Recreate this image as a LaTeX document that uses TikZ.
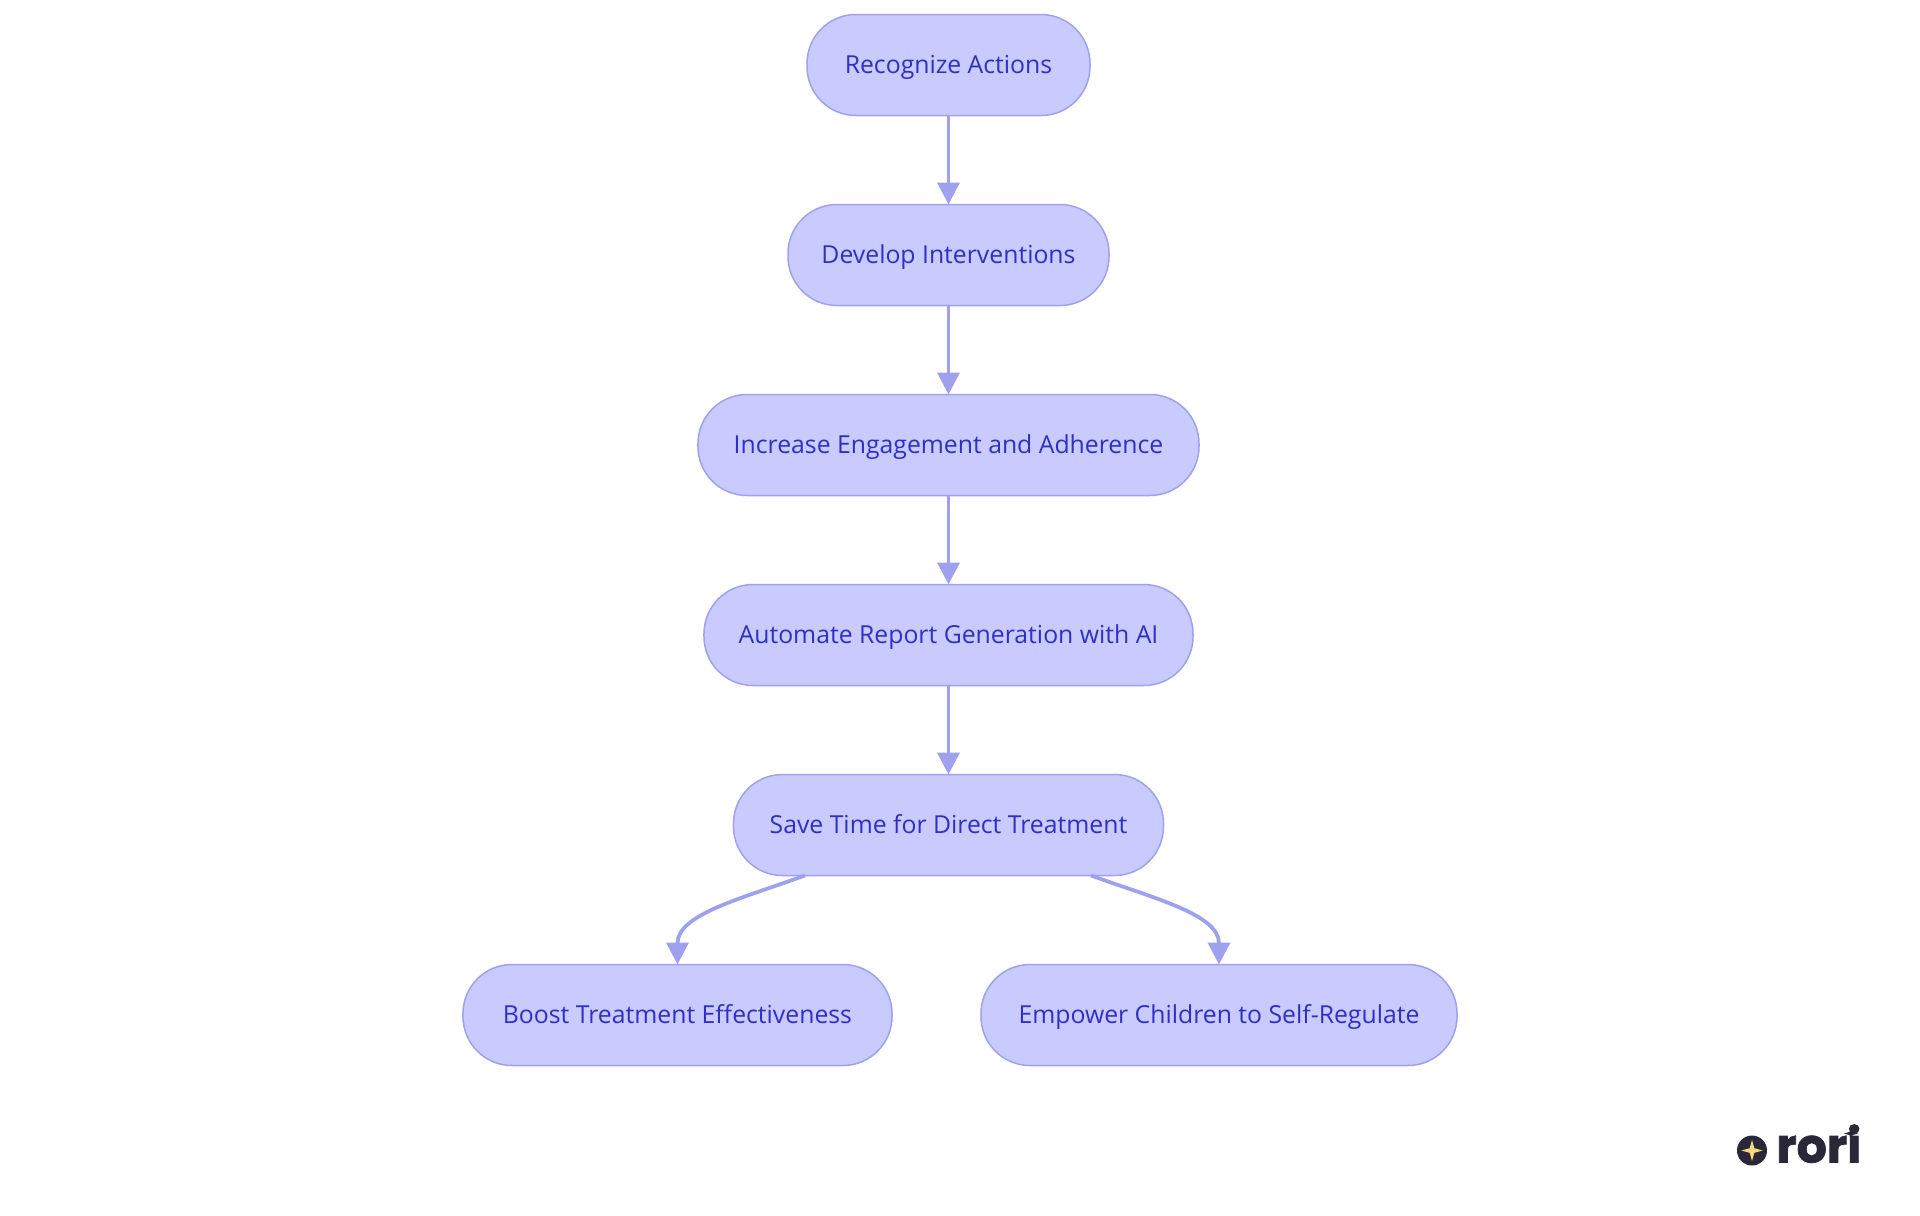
\documentclass[tikz,border=0pt]{standalone}
\usepackage{fontspec}
\setmainfont{Open Sans}
\newfontfamily\logofont{Poppins}[BoldFeatures={FakeBold=1.6}]
\usetikzlibrary{arrows.meta,chains,positioning,shapes.geometric}

\definecolor{boxfill}{HTML}{C9CAFE}
\definecolor{boxline}{HTML}{9FA1EE}
\definecolor{boxtext}{HTML}{2F2FC8}
\definecolor{logodark}{HTML}{2A2838}
\definecolor{logostar}{HTML}{F8D77E}

\begin{document}
\begin{tikzpicture}
    \edef\sizebox{2.02cm}
    \tikzstyle{flowbox}=[draw=boxline, fill=boxfill, text=boxtext, line width=.03cm,
                         rounded corners=.98cm, minimum height=\sizebox, inner sep=0,
                         outer sep=0, text height=.44cm, text depth=.12cm,
                         font=\fontsize{14.1}{17}\selectfont]
    \tikzstyle{flowline}=[draw=boxline, line width=.075cm,
                          -{Triangle[width=.44cm,length=.44cm]}]
    \tikzstyle{spark}=[star, star points=4, star point ratio=3.2, inner sep=0, outer sep=0]

    \useasboundingbox (-18.97,1.30) rectangle (19.43,-23.0);

    % Draw main column of boxes
    \begin{scope}[start chain=1 going below,node distance=1.78cm]
        \node [on chain=1,flowbox,minimum width=5.66cm] (recognize) {Recognize Actions};
        \node [on chain=1,flowbox,minimum width=6.42cm] (develop) {Develop Interventions};
        \node [on chain=1,flowbox,minimum width=10.02cm] (increase) {Increase Engagement and Adherence};
        \node [on chain=1,flowbox,minimum width=9.78cm] (automate) {Automate Report Generation with AI};
        \node [on chain=1,flowbox,minimum width=8.6cm] (save) {Save Time for Direct Treatment};
    \end{scope}

    % Draw the two boxes below (save)
    \node [flowbox,minimum width=8.58cm,below=1.78cm of save,xshift=-5.42cm] (boost) {Boost Treatment Effectiveness};
    \node [flowbox,minimum width=9.52cm,below=1.78cm of save,xshift=5.41cm] (empower) {Empower Children to Self-Regulate};

    \draw [flowline] (recognize) -- (develop);
    \draw [flowline] (develop) -- (increase);
    \draw [flowline] (increase) -- (automate);
    \draw [flowline] (automate) -- (save);

    \coordinate [xshift=-2.87cm] (saveleft) at (save.south);
    \coordinate [xshift=2.85cm] (saveright) at (save.south);
    \draw [flowline] (saveleft) .. controls +(-1.3,-.47) and +(0,1.0) .. (boost.north);
    \draw [flowline] (saveright) .. controls +(1.3,-.47) and +(0,1.0) .. (empower.north);

    % Draw logo in the corner
    \node [circle,fill=logodark,minimum size=.6cm,inner sep=0] (logodisc) at (16.07,-21.71) {};
    \node [spark,fill=logostar,minimum size=.42cm] (logosparkle) at (logodisc) {};
    \node [anchor=base west,inner sep=0,text=logodark,font=\logofont\bfseries\fontsize{27}{27}\selectfont]
        (logotext) at (16.55,-21.95) {rori};
    \node [spark,fill=logodark,minimum size=.28cm] (logostar) at (18.05,-21.37) {};
\end{tikzpicture}
\end{document}
